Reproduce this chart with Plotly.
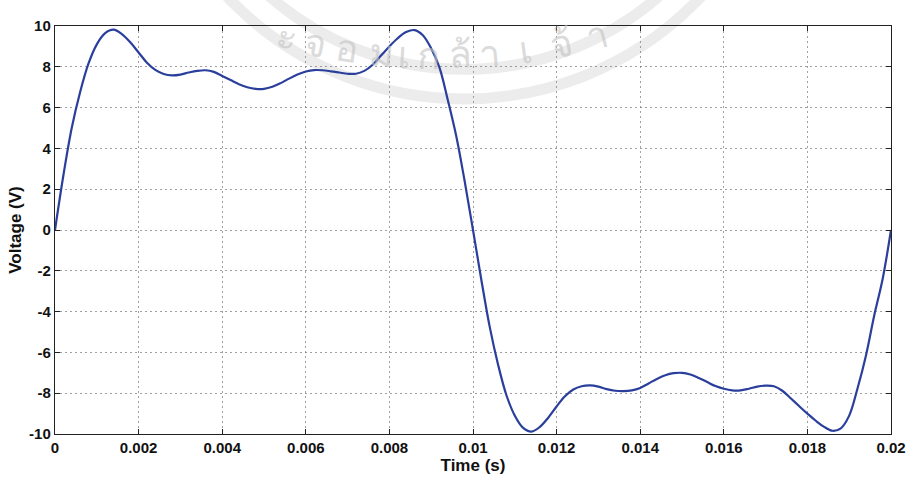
import math
import plotly.graph_objects as go

# Voltage waveform sampled every 0.2 ms over one 20 ms period
time_s = [round(i * 0.0002, 4) for i in range(101)]
voltage_v = [
    0.0, 2.67, 5.0, 6.75, 8.15, 9.1, 9.65, 9.82, 9.6, 9.2,
    8.7, 8.2, 7.85, 7.65, 7.58, 7.62, 7.72, 7.8, 7.83, 7.75,
    7.55, 7.35, 7.15, 7.0, 6.92, 6.92, 7.02, 7.2, 7.42, 7.62,
    7.77, 7.84, 7.83, 7.78, 7.72, 7.66, 7.66, 7.8, 8.1, 8.55,
    9.0, 9.4, 9.7, 9.8, 9.55, 8.9, 7.95, 6.35, 4.6, 2.4,
    0.0, -2.45, -4.75, -6.6, -8.1, -9.1, -9.7, -9.88, -9.65, -9.2,
    -8.65, -8.15, -7.82, -7.66, -7.62, -7.68, -7.8, -7.88, -7.9, -7.86,
    -7.74, -7.52, -7.3, -7.12, -7.02, -7.0, -7.08, -7.25, -7.45, -7.65,
    -7.78, -7.86, -7.86, -7.78, -7.68, -7.63, -7.66, -7.88, -8.25, -8.63,
    -9.0, -9.35, -9.65, -9.84, -9.72, -9.1, -7.76, -6.16, -4.18, -2.4,
    0.0,
]

x_ticks = [0, 0.002, 0.004, 0.006, 0.008, 0.01, 0.012, 0.014, 0.016, 0.018, 0.02]
x_tick_text = ["0", "0.002", "0.004", "0.006", "0.008", "0.01",
               "0.012", "0.014", "0.016", "0.018", "0.02"]
y_ticks = [-10, -8, -6, -4, -2, 0, 2, 4, 6, 8, 10]
y_tick_text = ["-10", "-8", "-6", "-4", "-2", "0", "2", "4", "6", "8", "10"]

# faint seal lettering in the background
seal_letters = ["ะ", "จ", "อ", "ม", "เ", "ก", "ล้", "า", "เ", "จ้", "า"]
seal_letter_px = [290, 320, 352, 386, 410, 434, 466, 496, 532, 568, 604]

FONT = "Liberation Sans, Arial, sans-serif"

fig = go.Figure()
fig.add_trace(go.Scatter(
    x=time_s, y=voltage_v, mode="lines",
    line=dict(color="#2a3f9c", width=2.2, shape="spline", smoothing=1.0),
    hoverinfo="skip",
))

# plot area in pixels
L, R, T, B = 55, 903, 26, 440
W, H = R - L, B - T


def px_to_paper(px, py):
    return (px - L) / W, (B - py) / H


# faint circular seal bands behind the axes
for cx, cy, rad in [(470, -230, 300), (470, -230, 330)]:
    x0, y0 = px_to_paper(cx - rad, cy + rad)
    x1, y1 = px_to_paper(cx + rad, cy - rad)
    fig.add_shape(type="circle", xref="paper", yref="paper",
                  x0=x0, x1=x1, y0=y0, y1=y1,
                  line=dict(color="rgba(200,200,200,0.35)", width=11),
                  layer="below")

# letters sit on a flat arc, tops turned toward the arc centre
acx, acy, arad = 445, -586, 640
for ch, px in zip(seal_letters, seal_letter_px):
    ang = math.asin((px - acx) / arad)
    py = acy + arad * math.cos(ang)
    xp, yp = px_to_paper(px, py)
    fig.add_annotation(
        x=xp, y=yp, xref="paper", yref="paper", text=ch, showarrow=False,
        textangle=-math.degrees(ang), xanchor="center", yanchor="middle",
        font=dict(family="Noto Sans, DejaVu Sans, sans-serif", size=38,
                  color="rgba(195,195,195,0.6)"),
    )

axis_common = dict(
    showline=True, linecolor="#222", linewidth=1.4, mirror="ticks",
    ticks="inside", ticklen=5, tickcolor="#222", tickwidth=1.2,
    showgrid=True, gridcolor="rgba(120,120,120,0.7)", griddash="2px,3px",
    gridwidth=1, zeroline=False, ticklabeloverflow="allow",
    tickfont=dict(family=FONT, size=15, color="#111", weight="bold"),
)

fig.update_xaxes(
    range=[0, 0.02], tickvals=x_ticks, ticktext=x_tick_text,
    title=dict(text="Time (s)", standoff=0,
               font=dict(family=FONT, size=17, color="#111", weight="bold")),
    **axis_common,
)
fig.update_yaxes(
    range=[-10, 10], tickvals=y_ticks, ticktext=y_tick_text,
    title=dict(text="Voltage (V)", standoff=3,
               font=dict(family=FONT, size=17, color="#111", weight="bold")),
    **axis_common,
)

fig.update_layout(
    width=918, height=480,
    margin=dict(l=L, r=918 - R, t=T, b=480 - B),
    paper_bgcolor="white", plot_bgcolor="rgba(0,0,0,0)",
    showlegend=False,
)

fig.write_html("out.html")
